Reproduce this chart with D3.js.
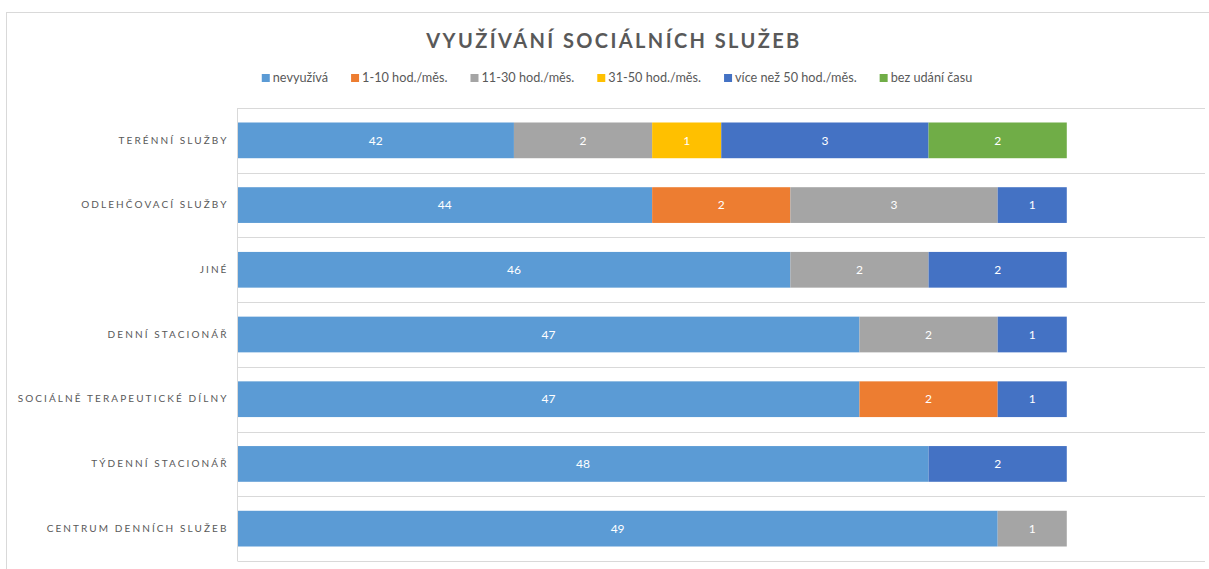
<!DOCTYPE html>
<html>
<head>
<meta charset="utf-8">
<script src="https://cdn.jsdelivr.net/npm/d3@7"></script>
<style>
	body { margin: 0; background: #fff; }
	text { font-family: Lato, "Open Sans", sans-serif; }
</style>
</head>
<body>
<svg id="graph"></svg>
<script>
var categories = ["Terénní služby", "Odlehčovací služby", "Jiné", "Denní stacionář",
	"Sociálně terapeutické dílny", "Týdenní stacionář", "Centrum denních služeb"];
var seriesNames = ["nevyužívá", "1-10 hod./měs.", "11-30 hod./měs.", "31-50 hod./měs.",
	"více než 50 hod./měs.", "bez udání času"];
var nevyuziva = [42, 44, 46, 47, 47, 48, 49];
var hod1_10 = [0, 2, 0, 0, 2, 0, 0];
var hod11_30 = [2, 3, 2, 2, 0, 0, 1];
var hod31_50 = [1, 0, 0, 0, 0, 0, 0];
var vice50 = [3, 1, 2, 1, 1, 2, 0];
var bezCasu = [2, 0, 0, 0, 0, 0, 0];
var colors = ["#5b9bd5", "#ed7d31", "#a5a5a5", "#ffc000", "#4472c4", "#70ad47"];
var axisMin = 38, axisMax = 52;

document.addEventListener("DOMContentLoaded", function() {
	var W = 1209, H = 569,
		plot = {left: 237.5, right: 1205, top: 108, bottom: 561};
	var svg = d3.select("#graph").attr("width", W).attr("height", H);

	// chart border
	svg.append("rect")
		.attr("x", 6.5).attr("y", 12.5)
		.attr("width", W + 10).attr("height", H + 10)
		.attr("fill", "none").attr("stroke", "#d9d9d9");

	svg.append("text")
		.attr("x", 614).attr("y", 48)
		.attr("text-anchor", "middle")
		.attr("fill", "#595959")
		.style("font-size", "20px").style("font-weight", "bold")
		.style("letter-spacing", "2.4px")
		.text("VYUŽÍVÁNÍ SOCIÁLNÍCH SLUŽEB");

	var allSeries = [nevyuziva, hod1_10, hod11_30, hod31_50, vice50, bezCasu];
	var rows = categories.map(function(c, i) {
		var r = {cat: c};
		seriesNames.forEach(function(s, j) { r[s] = allSeries[j][i]; });
		return r;
	});

	var x = d3.scaleLinear().domain([axisMin, axisMax]).range([plot.left, plot.right]);
	var y = d3.scaleBand().domain(categories).range([plot.top, plot.bottom])
		.paddingInner(0.448).paddingOuter(0.224);

	// gridlines at category boundaries
	var bounds = d3.range(categories.length + 1).map(function(i) { return plot.top + i * y.step(); });
	svg.append("g").selectAll("line").data(bounds).enter().append("line")
		.attr("x1", plot.left).attr("x2", plot.right)
		.attr("y1", function(d) { return Math.round(d) + 0.5; })
		.attr("y2", function(d) { return Math.round(d) + 0.5; })
		.attr("stroke", "#d9d9d9").attr("stroke-width", 1);

	var stacked = d3.stack().keys(seriesNames)(rows);
	var layers = svg.append("g").selectAll("g").data(stacked).enter().append("g")
		.attr("fill", function(d, i) { return colors[i]; });

	// bars start at axis minimum for the first series
	function x0(d) { return x(Math.max(d[0], axisMin)); }
	layers.selectAll("rect").data(function(d) { return d; }).enter().append("rect")
		.attr("x", x0)
		.attr("y", function(d) { return y(d.data.cat); })
		.attr("width", function(d) { return x(d[1]) - x0(d); })
		.attr("height", y.bandwidth());

	layers.selectAll("text").data(function(d) { return d.filter(function(p) { return p[1] - p[0] > 0; }); })
		.enter().append("text")
		.attr("x", function(d) { return (x0(d) + x(d[1])) / 2; })
		.attr("y", function(d) { return y(d.data.cat) + y.bandwidth() / 2; })
		.attr("dy", "0.35em")
		.attr("text-anchor", "middle")
		.attr("fill", "#fff")
		.style("font-size", "12px")
		.text(function(d) { return d[1] - d[0]; });

	// category axis
	var yAxis = svg.append("g")
		.attr("transform", "translate(" + plot.left + ",0)")
		.call(d3.axisLeft(y).tickSize(0).tickPadding(9));
	yAxis.select(".domain").attr("stroke", "#d9d9d9").attr("d", "M0," + plot.top + "V" + plot.bottom);
	yAxis.selectAll("text")
		.attr("fill", "#595959")
		.style("font-size", "10px")
		.style("letter-spacing", "2.1px")
		.style("font-family", "Lato, sans-serif")
		.text(function(d) { return d.toUpperCase(); });

	// legend
	var legend = svg.append("g");
	var lx = 0;
	var items = legend.selectAll("g").data(seriesNames).enter().append("g");
	items.append("rect").attr("width", 8).attr("height", 8).attr("y", -8)
		.attr("fill", function(d, i) { return colors[i]; });
	items.append("text").attr("x", 11).attr("y", 0)
		.attr("fill", "#595959").style("font-size", "12.7px")
		.text(function(d) { return d; });
	items.each(function() {
		var g = d3.select(this);
		g.attr("transform", "translate(" + lx + ",0)");
		lx += 11 + g.select("text").node().getComputedTextLength() + 23;
	});
	lx -= 23;
	legend.attr("transform", "translate(" + (617 - lx / 2) + ",82)");
});
</script>
</body>
</html>
